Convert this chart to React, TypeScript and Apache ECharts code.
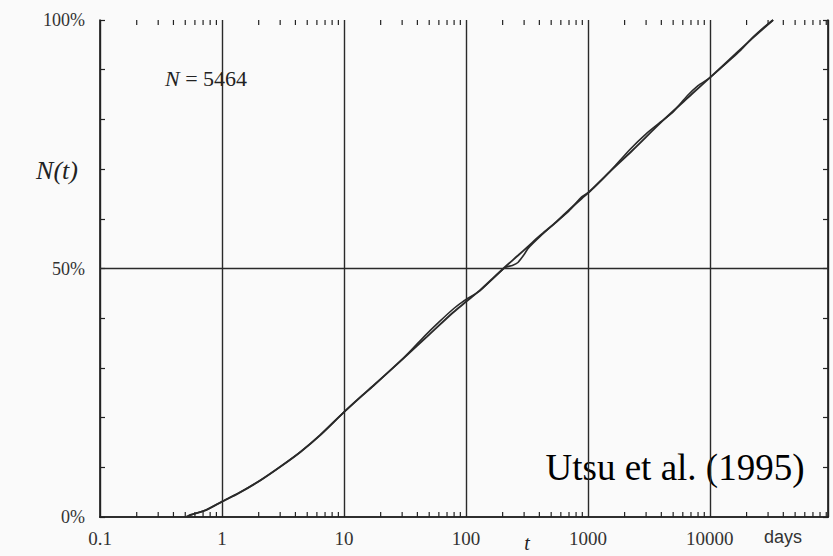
import React, { useEffect, useRef } from "react";
import * as echarts from "echarts";

// Fitted (smooth) cumulative curve: time in days, N(t) in percent
const T_FIT = [0.52, 0.55, 0.74, 1.0, 1.37, 2.07, 3.0, 4.4, 6.4, 10, 13.6, 17.4, 30.6, 48, 78, 100, 130, 209, 267, 322, 404, 535, 700, 890, 1035, 1500, 2325, 4090, 7190, 9900, 14440, 22270, 33000];
const N_FIT = [0, 0.4, 1.4, 3.1, 4.8, 7.4, 10.1, 13.1, 16.5, 21.1, 24.1, 26.4, 31.9, 36.3, 41.1, 43.3, 45.6, 50.3, 52.6, 54.4, 56.6, 59.1, 61.8, 64.1, 65.5, 69.4, 73.8, 79.7, 85.2, 88.3, 92.0, 96.3, 100];

// Observed cumulative curve
const T_OBS = [0.5, 0.55, 0.74, 1.0, 1.37, 2.07, 3.0, 4.4, 6.4, 10, 13.6, 17.4, 30.6, 45, 60, 80, 95, 130, 209, 240, 267, 300, 322, 404, 535, 700, 890, 1035, 1500, 2200, 3000, 4000, 5000, 6500, 8000, 9900, 12000, 18000, 22270, 28000, 33000];
const N_OBS = [0, 0.4, 1.4, 3.1, 4.8, 7.4, 10.1, 13.1, 16.5, 21.1, 24.1, 26.4, 31.9, 36.2, 39.2, 42.0, 43.4, 45.5, 50.2, 50.6, 51.2, 52.8, 54.0, 56.4, 59.1, 61.6, 64.4, 65.5, 69.4, 73.9, 77.1, 79.6, 81.5, 84.7, 86.8, 88.3, 90.1, 94.0, 96.4, 98.6, 100];

// Axis labels
const X_LABEL_VALUES = [0.1, 1, 10, 100, 1000, 10000];
const X_LABEL_TEXT = ["0.1", "1", "10", "100", "1000", "10000"];
const Y_LABEL_VALUES = [0, 50, 100];
const Y_LABEL_TEXT = ["0%", "50%", "100%"];

// Minor log ticks (2..9 within each decade)
const DECADES = [0.1, 1, 10, 100, 1000, 10000];
const MINOR_MULTS = [2, 3, 4, 5, 6, 7, 8, 9];

const X_MIN = 0.1;
const X_MAX = 93000;

export default function App() {
  const ref = useRef<HTMLDivElement>(null);
  useEffect(() => {
    if (!ref.current) return;
    const chart = echarts.init(ref.current, null, { renderer: "svg" });
    const minorTicks: number[][] = [];
    DECADES.forEach((d) => MINOR_MULTS.forEach((m) => {
      const v = d * m;
      if (v < X_MAX) minorTicks.push([v, 0]);
    }));
    const lineColor = "#222";
    const serif = "Liberation Serif";
    const option: any = {
      animation: false,
      backgroundColor: "#fafafa",
      grid: { left: 100, right: 5, top: 20, bottom: 39, containLabel: false },
      xAxis: [
        {
          type: "log",
          logBase: 10,
          min: X_MIN,
          max: X_MAX,
          splitNumber: 6,
          position: "bottom",
          axisLine: { show: true, lineStyle: { color: lineColor, width: 1.7 } },
          axisTick: { show: false },
          splitLine: { show: true, lineStyle: { color: "#2a2a2a", width: 1.4 } },
          axisLabel: {
            margin: 12,
            fontFamily: serif,
            fontSize: 19,
            color: "#333",
            formatter: (v: number) => {
              for (let i = 0; i < X_LABEL_VALUES.length; i++) {
                if (Math.abs(Math.log10(v) - Math.log10(X_LABEL_VALUES[i])) < 1e-6) return X_LABEL_TEXT[i];
              }
              return "";
            },
          },
        },
        {
          type: "log",
          logBase: 10,
          min: X_MIN,
          max: X_MAX,
          position: "top",
          axisLine: { show: true, lineStyle: { color: lineColor, width: 1.7 } },
          axisTick: { show: false },
          splitLine: { show: false },
          axisLabel: { show: false },
        },
      ],
      yAxis: [
        {
          type: "value",
          min: 0,
          max: 100,
          interval: 10,
          position: "left",
          axisLine: { show: true, lineStyle: { color: lineColor, width: 1.7 } },
          axisTick: { show: true, inside: true, length: 5, lineStyle: { color: lineColor, width: 1.2 } },
          splitLine: { show: false },
          axisLabel: {
            margin: 15,
            fontFamily: serif,
            fontSize: 18,
            color: "#333",
            formatter: (v: number) => {
              const i = Y_LABEL_VALUES.indexOf(Math.round(v));
              return i >= 0 && Math.abs(v - Y_LABEL_VALUES[i]) < 1e-6 ? Y_LABEL_TEXT[i] : "";
            },
          },
        },
        {
          type: "value",
          min: 0,
          max: 100,
          interval: 10,
          position: "right",
          axisLine: { show: true, lineStyle: { color: lineColor, width: 1.7 } },
          axisTick: { show: true, inside: true, length: 5, lineStyle: { color: lineColor, width: 1.2 } },
          splitLine: { show: false },
          axisLabel: { show: false },
        },
      ],
      series: [
        {
          type: "custom",
          name: "minorTicks",
          xAxisIndex: 0,
          yAxisIndex: 0,
          silent: true,
          clip: false,
          data: minorTicks,
          encode: { x: 0, y: 1 },
          renderItem: (params: any, api: any) => {
            const t = api.value(0);
            const pb = api.coord([t, 0]);
            const pt = api.coord([t, 100]);
            const style = { stroke: lineColor, lineWidth: 1.2 };
            return {
              type: "group",
              children: [
                { type: "line", shape: { x1: pb[0], y1: pb[1], x2: pb[0], y2: pb[1] - 5 }, style },
                { type: "line", shape: { x1: pt[0], y1: pt[1], x2: pt[0], y2: pt[1] + 5 }, style },
              ],
            };
          },
        },
        {
          type: "line",
          name: "fit",
          xAxisIndex: 0,
          yAxisIndex: 0,
          data: T_FIT.map((t, i) => [t, N_FIT[i]]),
          showSymbol: false,
          smooth: 0.3,
          lineStyle: { color: "#2a2a2a", width: 1.9 },
          markLine: {
            silent: true,
            symbol: ["none", "none"],
            label: { show: false },
            lineStyle: { color: "#2a2a2a", width: 1.4, type: "solid" },
            data: [{ yAxis: 50 }],
          },
        },
        {
          type: "line",
          name: "observed",
          xAxisIndex: 0,
          yAxisIndex: 0,
          data: T_OBS.map((t, i) => [t, N_OBS[i]]),
          showSymbol: false,
          smooth: 0.2,
          lineStyle: { color: "#2a2a2a", width: 1.6 },
        },
      ],
      graphic: [
        {
          type: "text",
          x: 57,
          y: 170,
          style: {
            text: "N(t)",
            fontFamily: serif,
            fontStyle: "italic",
            fontSize: 26,
            fill: "#222",
            align: "center",
            verticalAlign: "middle",
          },
        },
        {
          type: "text",
          x: 206,
          y: 78,
          style: {
            text: "{i|N}{n| = 5464}",
            fontFamily: serif,
            fontSize: 22,
            fill: "#222",
            align: "center",
            verticalAlign: "middle",
            rich: {
              i: { fontFamily: serif, fontStyle: "italic", fontSize: 22, fill: "#222" },
              n: { fontFamily: serif, fontSize: 22, fill: "#222" },
            },
          },
        },
        {
          type: "text",
          x: 527,
          y: 543,
          style: {
            text: "t",
            fontFamily: serif,
            fontStyle: "italic",
            fontSize: 20,
            fill: "#222",
            align: "center",
            verticalAlign: "middle",
          },
        },
        {
          type: "text",
          x: 783,
          y: 537,
          style: {
            text: "days",
            fontFamily: "Liberation Sans",
            fontSize: 18,
            fill: "#333",
            align: "center",
            verticalAlign: "middle",
          },
        },
        {
          type: "text",
          x: 675,
          y: 467,
          style: {
            text: "Utsu et al. (1995)",
            fontFamily: serif,
            fontSize: 37,
            fill: "#000",
            align: "center",
            verticalAlign: "middle",
          },
        },
      ],
    };
    chart.setOption(option);
    return () => chart.dispose();
  }, []);
  return (
    <div
      ref={ref}
      style={{ position: "fixed", left: 0, top: 0, width: 833, height: 556, background: "#fafafa" }}
    />
  );
}
